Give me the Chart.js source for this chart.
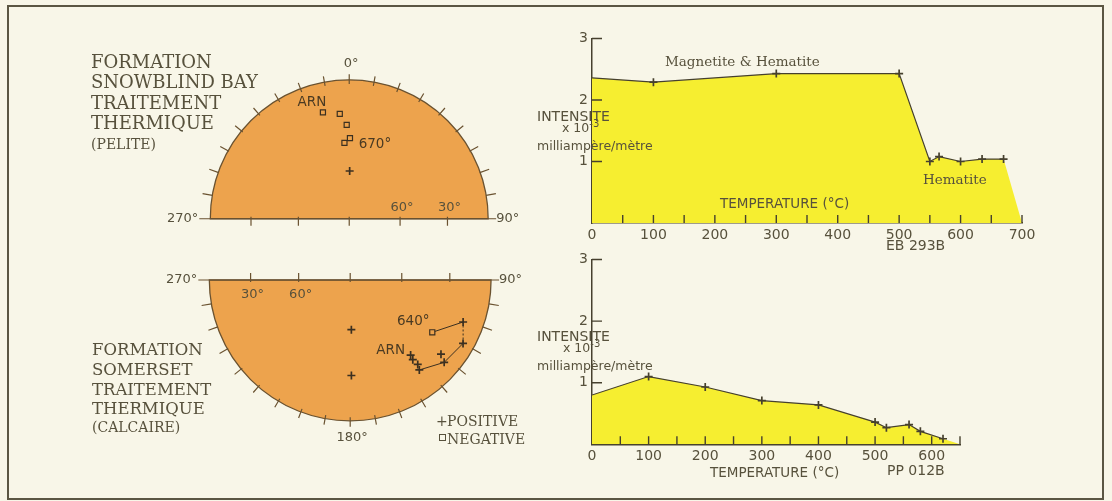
<!DOCTYPE html>
<html>
<head>
<meta charset="utf-8">
<script src="https://cdn.jsdelivr.net/npm/chart.js@4.4.1/dist/chart.umd.min.js"></script>
<style>
  body { margin: 0; width: 1112px; height: 501px; background: #f8f6e8; position: relative; overflow: hidden;
         font-family: "DejaVu Sans", sans-serif; color: #57513c; }
  .frame { position: absolute; left: 7px; top: 5px; width: 1093px; height: 491px; border: 2px solid #5b5643; }
  canvas { position: absolute; }
  .t { position: absolute; white-space: nowrap; line-height: 1; z-index: 2; }
  .serif { font-family: "DejaVu Serif", serif; }
  .sup { position: relative; top: -5px; font-size: 10px; }
  .box { position: absolute; width: 5px; height: 5px; border: 1.2px solid #57513c; }
</style>
</head>
<body>
<div class="frame"></div>

<canvas id="netTop" width="400" height="200" style="left:140px;top:40px"></canvas>
<canvas id="netBot" width="400" height="210" style="left:140px;top:250px"></canvas>
<canvas id="curveTop" width="560" height="245" style="left:520px;top:20px"></canvas>
<canvas id="curveBot" width="560" height="250" style="left:520px;top:245px"></canvas>

<!-- left titles -->
<div class="t serif" style="left:91px;top:53px;font-size:18px">FORMATION</div>
<div class="t serif" style="left:91px;top:73px;font-size:18px">SNOWBLIND BAY</div>
<div class="t serif" style="left:91px;top:93.5px;font-size:18px">TRAITEMENT</div>
<div class="t serif" style="left:91px;top:114px;font-size:18px">THERMIQUE</div>
<div class="t serif" style="left:91px;top:136.5px;font-size:14px">(PELITE)</div>

<div class="t serif" style="left:92px;top:342px;font-size:16.5px">FORMATION</div>
<div class="t serif" style="left:92px;top:362px;font-size:16.5px">SOMERSET</div>
<div class="t serif" style="left:92px;top:382px;font-size:16.5px">TRAITEMENT</div>
<div class="t serif" style="left:92px;top:401px;font-size:16.5px">THERMIQUE</div>
<div class="t serif" style="left:92px;top:420px;font-size:14px">(CALCAIRE)</div>

<!-- legend -->
<div class="t serif" style="left:436px;top:414px;font-size:14px">+</div>
<div class="t serif" style="left:447px;top:414px;font-size:14px">POSITIVE</div>
<div class="box" style="left:439px;top:434px"></div>
<div class="t serif" style="left:447px;top:432px;font-size:14px">NEGATIVE</div>

<!-- upper diagram texts -->
<div class="t serif" style="left:665px;top:54.5px;font-size:13.5px">Magnetite &amp; Hematite</div>
<div class="t serif" style="left:923px;top:172.5px;font-size:13.5px">Hematite</div>
<div class="t" style="left:720px;top:197px;font-size:13.5px">TEMPERATURE (°C)</div>
<div class="t" style="left:886px;top:238px;font-size:14px">EB 293B</div>
<div class="t" style="left:537px;top:108.5px;font-size:14px">INTENSITE</div>
<div class="t" style="left:562px;top:122px;font-size:12.5px">x 10<span class="sup">-3</span></div>
<div class="t" style="left:537px;top:140px;font-size:12.5px">milliampère/mètre</div>

<!-- lower diagram texts -->
<div class="t" style="left:537px;top:328.5px;font-size:14px">INTENSITE</div>
<div class="t" style="left:563px;top:342px;font-size:12.5px">x 10<span class="sup">-3</span></div>
<div class="t" style="left:537px;top:360px;font-size:12.5px">milliampère/mètre</div>
<div class="t" style="left:710px;top:465.5px;font-size:13.5px">TEMPERATURE (°C)</div>
<div class="t" style="left:887px;top:462.5px;font-size:14px">PP 012B</div>

<script>
'use strict';

// Snowblind Bay (pelite): declination / inclination (negative = upper hemisphere)
const pelNegDec = [346.5, 355.0, 358.5, 356.5, 0.5];
const pelNegInc = [-20.0, -23.0, -31.0, -43.0, -40.0];
const pelPosDec = [0.5];
const pelPosInc = [61.0];

// Somerset (calcaire): demagnetisation path from ARN to 640 degrees
const calPathDec = [141.9, 142.6, 142.1, 143.2, 132.0, 120.0, 110.9, 123.2];
const calPathInc = [31.1, 27.7, 23.0, 19.2, 11.2, 8.3, 15.3, -31.0];
const calOtherDec = [178.7, 179.3, 130.0];
const calOtherInc = [60.3, 31.0, 17.0];

// intensity curves (x10^-3 mA/m) against temperature (C)
const ebTemp = [0, 100, 300, 500, 550, 565, 600, 635, 670, 700];
const ebInt = [2.36, 2.29, 2.43, 2.43, 1.00, 1.08, 1.00, 1.04, 1.04, 0];
const ppTemp = [0, 100, 200, 300, 400, 500, 520, 560, 580, 620, 650];
const ppInt = [0.80, 1.10, 0.93, 0.71, 0.64, 0.36, 0.27, 0.32, 0.21, 0.09, 0];

const dipTicks = [30, 60, 90];

const INK = '#46402e';
const TEXT = '#57513c';
const ORANGE = '#eda34d';
const EDGE = '#6a5230';
const YELLOW = '#f6ee30';

Chart.defaults.font.family = 'DejaVu Sans';
Chart.defaults.color = TEXT;

// equal-area (Schmidt) projection, unit radius = horizontal
function eqArea(inc) {
  return Math.SQRT2 * Math.sin((90 - Math.abs(inc)) * Math.PI / 360);
}
function proj(dec, inc) {
  const r = eqArea(inc), d = dec * Math.PI / 180;
  return { x: r * Math.sin(d), y: r * Math.cos(d) };
}
const pts = (decs, incs) => decs.map((d, i) => proj(d, incs[i]));

const netPlugin = {
  id: 'net',
  beforeDatasetsDraw(chart, args, o) {
    const { ctx } = chart;
    const xs = chart.scales.x, ys = chart.scales.y;
    const cx = xs.getPixelForValue(0), cy = ys.getPixelForValue(0);
    const R = xs.getPixelForValue(1) - cx;
    const s = o.north ? 1 : -1;
    ctx.save();
    ctx.beginPath();
    if (o.north) ctx.arc(cx, cy, R, Math.PI, 2 * Math.PI);
    else ctx.arc(cx, cy, R, 0, Math.PI);
    ctx.closePath();
    ctx.fillStyle = ORANGE;
    ctx.fill();
    ctx.strokeStyle = EDGE;
    ctx.lineWidth = 1.3;
    ctx.stroke();

    ctx.beginPath();
    ctx.moveTo(cx - R - 11, cy);
    ctx.lineTo(cx + R + 8, cy);
    // azimuth ticks every 10 degrees, outside the circle
    for (let a = -80; a <= 80; a += 10) {
      const t = a * Math.PI / 180;
      const u = Math.sin(t), v = s * Math.cos(t);
      const k = 1 + 10 / R;
      ctx.moveTo(xs.getPixelForValue(u), ys.getPixelForValue(v));
      ctx.lineTo(xs.getPixelForValue(u * k), ys.getPixelForValue(v * k));
    }
    // dip ticks on the diameter
    dipTicks.forEach(d => {
      const r = eqArea(d);
      [-r, r].forEach(u => {
        const px = xs.getPixelForValue(u);
        ctx.moveTo(px, cy - 2 * s);
        ctx.lineTo(px, cy + 7 * s);
      });
    });
    ctx.lineWidth = 1.2;
    ctx.stroke();

    ctx.fillStyle = TEXT;
    ctx.font = '13px "DejaVu Sans"';
    ctx.textBaseline = 'middle';
    ctx.textAlign = 'center';
    ctx.fillText(o.north ? '0°' : '180°', cx + 2, ys.getPixelForValue(s) - s * 20);
    ctx.textAlign = 'right';
    ctx.fillText('270°', cx - R - 12, cy);
    ctx.textAlign = 'left';
    ctx.fillText('90°', cx + R + 8, cy);
    ctx.textAlign = 'center';
    [30, 60].forEach(d => {
      ctx.fillText(d + '°', xs.getPixelForValue(o.dipSide * eqArea(d)) + 2, cy + o.dipDy);
    });

    ctx.font = '13.5px "DejaVu Sans"';
    ctx.fillStyle = '#4a3a22';
    o.labels.forEach(l => {
      const el = chart.getDatasetMeta(l.ds).data[l.i];
      ctx.fillText(l.text, el.x + l.dx, el.y + l.dy);
    });
    ctx.restore();
  }
};

function netChart(id, w, h, cx, cy, R, datasets, opts) {
  return new Chart(document.getElementById(id), {
    type: 'scatter',
    data: { datasets },
    options: {
      responsive: false,
      animation: false,
      layout: { padding: 0 },
      plugins: { legend: { display: false }, tooltip: { enabled: false }, net: opts },
      scales: {
        x: { display: false, min: -cx / R, max: (w - cx) / R },
        y: { display: false, min: -(h - cy) / R, max: cy / R }
      }
    },
    plugins: [netPlugin]
  });
}

const posStyle = { pointStyle: 'cross', pointRadius: 4, pointBorderWidth: 1.7, borderColor: '#3c3020', showLine: false };
const negStyle = { pointStyle: 'rect', pointRadius: 3.6, pointBorderWidth: 1.2, borderColor: '#3c3020', backgroundColor: ORANGE, showLine: false };

netChart('netTop', 400, 200, 209.5, 183.5, 143, [
  Object.assign({ data: pts(pelNegDec, pelNegInc) }, negStyle),
  Object.assign({ data: pts(pelPosDec, pelPosInc) }, posStyle)
], {
  north: true, dipSide: 1, dipDy: -11,
  labels: [
    { ds: 0, i: 0, text: 'ARN', dx: -11, dy: -10 },
    { ds: 0, i: 4, text: '670°', dx: 25, dy: 6 }
  ]
});

netChart('netBot', 400, 210, 210.5, 25.7, 145, [
  Object.assign({ data: pts(calPathDec.slice(0, 7), calPathInc.slice(0, 7)) }, posStyle),
  Object.assign({ data: pts(calOtherDec, calOtherInc) }, posStyle),
  Object.assign({ data: pts(calPathDec.slice(7), calPathInc.slice(7)) }, negStyle),
  {
    data: pts(calPathDec.slice(3), calPathInc.slice(3)),
    showLine: true, pointRadius: 0, borderColor: '#3c3020', borderWidth: 1,
    segment: { borderDash: c => c.p0DataIndex === 2 ? [2, 2] : undefined }
  }
], {
  north: false, dipSide: -1, dipDy: 15,
  labels: [
    { ds: 2, i: 0, text: '640°', dx: -19, dy: -11 },
    { ds: 0, i: 0, text: 'ARN', dx: -20, dy: -5 }
  ]
});

// short ticks pointing into the plot
const innerTicks = {
  id: 'innerTicks',
  afterDraw(chart) {
    const { ctx, chartArea: a } = chart;
    const xs = chart.scales.x, ys = chart.scales.y;
    ctx.save();
    ctx.strokeStyle = INK;
    ctx.lineWidth = 1.4;
    ctx.beginPath();
    xs.ticks.forEach(t => {
      if (t.value === 0) return;
      const px = xs.getPixelForValue(t.value);
      ctx.moveTo(px, a.bottom);
      ctx.lineTo(px, a.bottom - 8);
    });
    ys.ticks.forEach(t => {
      if (t.value === 0) return;
      const py = ys.getPixelForValue(t.value);
      ctx.moveTo(a.left, py);
      ctx.lineTo(a.left + 10, py);
    });
    ctx.stroke();
    ctx.restore();
  }
};

function curveChart(id, temps, ints, xMax, padding) {
  const n = temps.length;
  const all = temps.map((t, i) => ({ x: t, y: ints[i] }));
  return new Chart(document.getElementById(id), {
    type: 'line',
    data: {
      datasets: [{
        // measured steps: line and crosses (the closing point to zero is left out)
        data: all.slice(0, n - 1),
        fill: false,
        borderColor: INK,
        borderWidth: 1.2,
        tension: 0,
        pointStyle: 'cross',
        pointRadius: all.slice(0, n - 1).map((p, i) => i === 0 ? 0 : 4),
        pointBorderWidth: 1.7,
        pointBorderColor: INK
      }, {
        // yellow area under the whole curve
        data: all,
        fill: 'origin',
        backgroundColor: YELLOW,
        borderWidth: 0,
        borderColor: 'rgba(0,0,0,0)',
        pointRadius: 0,
        tension: 0
      }]
    },
    options: {
      responsive: false,
      animation: false,
      layout: { padding },
      plugins: { legend: { display: false }, tooltip: { enabled: false } },
      scales: {
        x: {
          type: 'linear', min: 0, max: xMax,
          grid: { display: false, drawTicks: false },
          border: { color: INK, width: 1.5 },
          ticks: {
            stepSize: 50, autoSkip: false, maxRotation: 0, padding: 4,
            font: { size: 14 }, color: TEXT,
            callback: v => v % 100 === 0 ? v : ''
          },
          afterFit: s => { s.height = 22; }
        },
        y: {
          min: 0, max: 3,
          grid: { display: false, drawTicks: false },
          border: { color: INK, width: 1.5 },
          ticks: {
            stepSize: 1, padding: 4, font: { size: 14 }, color: TEXT,
            callback: v => v === 0 ? '' : v
          },
          afterFit: s => { s.width = 24; }
        }
      }
    },
    plugins: [innerTicks]
  });
}

curveChart('curveTop', ebTemp, ebInt, 700, { left: 48, right: 58, top: 18.5, bottom: 20 });
curveChart('curveBot', ppTemp, ppInt, 650, { left: 48, right: 120, top: 14.5, bottom: 28.7 });
</script>
</body>
</html>
